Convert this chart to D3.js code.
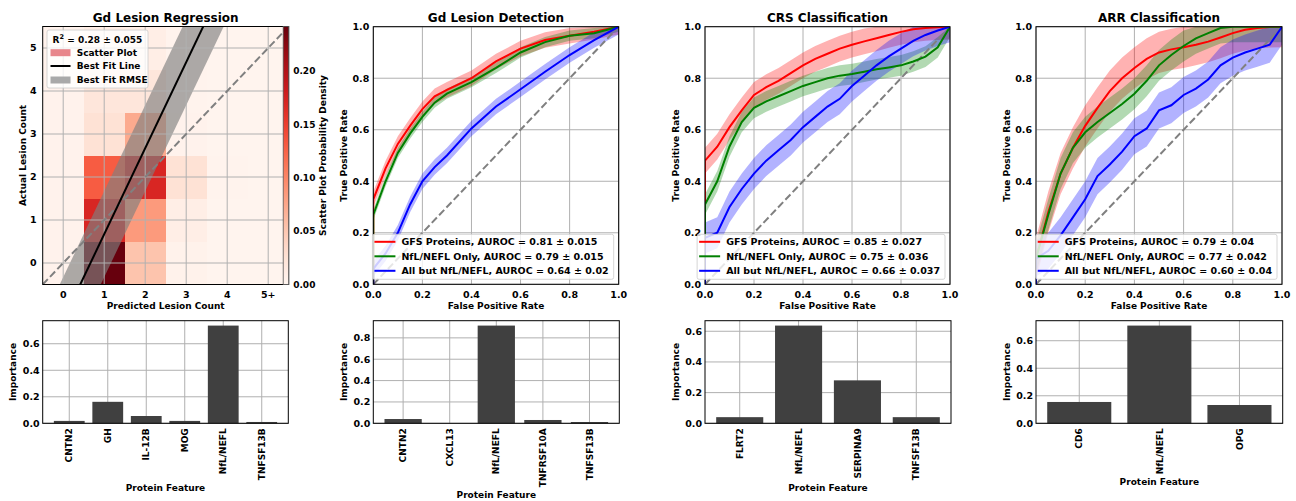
<!DOCTYPE html>
<html>
<head>
<meta charset="utf-8">
<script src="https://cdn.jsdelivr.net/npm/d3@7"></script>
<style>
body { margin: 0; background: #fff; }
svg text { font-family: 'DejaVu Sans', sans-serif; font-weight: bold; fill: #000; }
</style>
</head>
<body>
<svg id="fig" width="1296" height="501"></svg>
<script>
// ---- regression panel data ----
const countLabels = ["0", "1", "2", "3", "4", "5+"];
// rows = actual lesion count 0..5, cols = predicted lesion count 0..5
const heatDensity = [
    [0.004, 0.242, 0.053, 0.005, 0.002, 0.002],
    [0.004, 0.170, 0.085, 0.010, 0.002, 0.002],
    [0.004, 0.130, 0.170, 0.025, 0.003, 0.002],
    [0.004, 0.025, 0.073, 0.004, 0.002, 0.002],
    [0.004, 0.020, 0.020, 0.003, 0.002, 0.002],
    [0.004, 0.012, 0.010, 0.003, 0.002, 0.002]
];
const fitSlope = 2.0;
const fitIntercept = -1.33;
const fitRmse = 1.0;
const regLegend = ["Scatter Plot", "Best Fit Line", "Best Fit RMSE"];

// ---- ROC data ----
const rocNames = ["GFS Proteins", "NfL/NEFL Only", "All but NfL/NEFL"];

const gdFpr    = [0, 0, 0.05, 0.1, 0.15, 0.2, 0.25, 0.3, 0.4, 0.5, 0.6, 0.7, 0.8, 0.9, 1.0];
const gdGfsTpr = [0, 0.33, 0.45, 0.545, 0.615, 0.68, 0.73, 0.755, 0.80, 0.865, 0.915, 0.948, 0.965, 0.98, 1.0];
const gdNflTpr = [0, 0.27, 0.40, 0.51, 0.585, 0.65, 0.705, 0.74, 0.785, 0.84, 0.90, 0.94, 0.965, 0.975, 1.0];
const gdAllTpr = [0, 0.06, 0.12, 0.20, 0.31, 0.40, 0.455, 0.50, 0.605, 0.69, 0.757, 0.825, 0.89, 0.948, 1.0];
const gdStd    = [0.03, 0.02, 0.03];
const gdAuroc  = ["0.81 ± 0.015", "0.79 ± 0.015", "0.64 ± 0.02"];

const crsFpr    = [0, 0, 0.05, 0.1, 0.15, 0.2, 0.25, 0.3, 0.35, 0.4, 0.45, 0.5, 0.55, 0.6, 0.65, 0.7, 0.75, 0.8, 0.85, 0.9, 0.95, 1.0];
const crsGfsTpr = [0, 0.48, 0.534, 0.61, 0.675, 0.735, 0.765, 0.79, 0.82, 0.85, 0.875, 0.895, 0.915, 0.93, 0.943, 0.955, 0.968, 0.98, 0.99, 0.995, 0.998, 1.0];
const crsNflTpr = [0, 0.31, 0.40, 0.535, 0.63, 0.685, 0.71, 0.73, 0.75, 0.77, 0.785, 0.80, 0.81, 0.816, 0.825, 0.835, 0.842, 0.85, 0.865, 0.884, 0.92, 1.0];
const crsAllTpr = [0, 0.18, 0.20, 0.30, 0.37, 0.43, 0.48, 0.52, 0.56, 0.61, 0.65, 0.69, 0.72, 0.77, 0.81, 0.85, 0.885, 0.915, 0.945, 0.968, 0.985, 1.0];
const crsStd    = [0.05, 0.04, 0.06];
const crsAuroc  = ["0.85 ± 0.027", "0.75 ± 0.036", "0.66 ± 0.037"];

const arrFpr    = [0, 0, 0.05, 0.1, 0.15, 0.2, 0.25, 0.3, 0.35, 0.4, 0.45, 0.5, 0.55, 0.6, 0.65, 0.7, 0.75, 0.8, 0.85, 0.9, 0.95, 1.0];
const arrGfsTpr = [0, 0.10, 0.28, 0.43, 0.53, 0.615, 0.685, 0.75, 0.80, 0.84, 0.875, 0.90, 0.912, 0.92, 0.93, 0.942, 0.958, 0.975, 0.988, 0.995, 0.999, 1.0];
const arrNflTpr = [0, 0.10, 0.27, 0.43, 0.53, 0.59, 0.63, 0.665, 0.70, 0.74, 0.79, 0.85, 0.89, 0.925, 0.955, 0.975, 0.995, 1.0, 1.0, 1.0, 1.0, 1.0];
const arrAllTpr = [0, 0.10, 0.13, 0.19, 0.26, 0.33, 0.42, 0.465, 0.515, 0.575, 0.605, 0.675, 0.695, 0.735, 0.76, 0.795, 0.85, 0.88, 0.90, 0.915, 0.93, 1.0];
const arrStd    = [0.08, 0.06, 0.07];
const arrAuroc  = ["0.79 ± 0.04", "0.77 ± 0.042", "0.60 ± 0.04"];

// ---- feature importance data ----
const regFeatures = ["CNTN2", "GH", "IL-12B", "MOG", "NfL/NEFL", "TNFSF13B"];
const regImportance = [0.018, 0.162, 0.055, 0.018, 0.737, 0.01];
const gdFeatures = ["CNTN2", "CXCL13", "NfL/NEFL", "TNFRSF10A", "TNFSF13B"];
const gdImportance = [0.04, 0.0, 0.915, 0.031, 0.012];
const crsFeatures = ["FLRT2", "NfL/NEFL", "SERPINA9", "TNFSF13B"];
const crsImportance = [0.04, 0.637, 0.28, 0.04];
const arrFeatures = ["CD6", "NfL/NEFL", "OPG"];
const arrImportance = [0.155, 0.71, 0.133];

const svg = d3.select('#fig');
const gridColor = '#b0b0b0';
const rocColors = ['#ff0000', '#008000', '#0000ff'];
let clipCount = 0;

let addClip = (box) => {
    const id = 'clip' + (clipCount++);
    svg.append('clipPath').attr('id', id)
        .append('rect')
        .attr('x', box.l).attr('y', box.t)
        .attr('width', box.r - box.l).attr('height', box.b - box.t);
    return 'url(#' + id + ')';
}

let addTitle = (box, text) => {
    svg.append('text')
        .attr('x', (box.l + box.r) / 2).attr('y', 22)
        .attr('text-anchor', 'middle')
        .style('font-size', '12px')
        .text(text);
}

let addXLabel = (cx, y, text) => {
    svg.append('text')
        .attr('x', cx).attr('y', y)
        .attr('text-anchor', 'middle')
        .style('font-size', '9px')
        .text(text);
}

let addYLabel = (x, cy, text) => {
    svg.append('text')
        .attr('transform', 'translate(' + x + ',' + cy + ') rotate(-90)')
        .attr('text-anchor', 'middle')
        .attr('dy', '0.35em')
        .style('font-size', '9px')
        .text(text);
}

let addFrame = (box) => {
    svg.append('rect')
        .attr('x', box.l).attr('y', box.t)
        .attr('width', box.r - box.l).attr('height', box.b - box.t)
        .attr('fill', 'none').attr('stroke', '#000').attr('stroke-width', 1);
}

/**
 * Regression heatmap with colorbar
 */
let showRegression = () => {
    const box = {l: 42.7, r: 288.7, t: 26.5, b: 284.5};
    const x = d3.scaleLinear().domain([-0.5, 5.5]).range([box.l, box.r]);
    const y = d3.scaleLinear().domain([-0.5, 5.5]).range([box.b, box.t]);
    const maxD = d3.max(heatDensity.flat());
    const color = d3.scaleSequential(d3.interpolateReds).domain([0, maxD]);
    const clip = addClip(box);

    const g = svg.append('g').attr('clip-path', clip);
    heatDensity.forEach((row, i) => {
        row.forEach((v, j) => {
            g.append('rect')
                .attr('x', x(j - 0.5)).attr('y', y(i + 0.5))
                .attr('width', x(j + 0.5) - x(j - 0.5) + 0.5)
                .attr('height', y(i - 0.5) - y(i + 0.5) + 0.5)
                .attr('fill', color(v))
                .attr('shape-rendering', 'crispEdges');
        });
    });

    // rmse band
    const band = d3.area()
        .x(d => x(d))
        .y0(d => y(fitSlope * d + fitIntercept - fitRmse))
        .y1(d => y(fitSlope * d + fitIntercept + fitRmse));
    g.append('path').attr('d', band([-1, 6]))
        .attr('fill', '#7f7f7f').attr('fill-opacity', 0.65);

    // grid
    d3.range(6).forEach(t => {
        g.append('line').attr('x1', x(t)).attr('x2', x(t)).attr('y1', box.t).attr('y2', box.b)
            .attr('stroke', gridColor).attr('stroke-width', 1);
        g.append('line').attr('y1', y(t)).attr('y2', y(t)).attr('x1', box.l).attr('x2', box.r)
            .attr('stroke', gridColor).attr('stroke-width', 1);
    });

    // identity line
    g.append('line')
        .attr('x1', x(-0.5)).attr('y1', y(-0.5)).attr('x2', x(5.5)).attr('y2', y(5.5))
        .attr('stroke', '#808080').attr('stroke-width', 2).attr('stroke-dasharray', '7.4,3.2');

    // best fit
    const fit = d3.line().x(d => x(d)).y(d => y(fitSlope * d + fitIntercept));
    g.append('path').attr('d', fit([-1, 6]))
        .attr('stroke', '#000').attr('stroke-width', 2).attr('fill', 'none');

    addFrame(box);

    // ticks
    countLabels.forEach((lab, i) => {
        svg.append('text').attr('x', x(i)).attr('y', box.b + 13.5)
            .attr('text-anchor', 'middle').style('font-size', '9.5px').text(lab);
        svg.append('text').attr('x', box.l - 6).attr('y', y(i)).attr('dy', '0.35em')
            .attr('text-anchor', 'end').style('font-size', '9.5px').text(i);
    });

    // colorbar
    const cb = {l: 283.2, r: 288.7, t: box.t, b: box.b};
    const cy = d3.scaleLinear().domain([0, maxD]).range([cb.b, cb.t]);
    const grad = svg.append('defs').append('linearGradient').attr('id', 'cbGrad')
        .attr('x1', 0).attr('y1', 1).attr('x2', 0).attr('y2', 0);
    d3.range(0, 1.001, 0.05).forEach(t => {
        grad.append('stop').attr('offset', t).attr('stop-color', d3.interpolateReds(t));
    });
    svg.append('rect').attr('x', cb.l).attr('y', cb.t)
        .attr('width', cb.r - cb.l).attr('height', cb.b - cb.t)
        .attr('fill', 'url(#cbGrad)').attr('stroke', '#555').attr('stroke-width', 0.8);
    [0, 0.05, 0.1, 0.15, 0.2].forEach(t => {
        svg.append('text').attr('x', cb.r + 4.5).attr('y', cy(t)).attr('dy', '0.35em')
            .style('font-size', '9px').text(d3.format('.2f')(t));
    });
    addYLabel(322.7, (cb.t + cb.b) / 2, 'Scatter Plot Probability Density');

    addTitle(box, 'Gd Lesion Regression');
    addXLabel((box.l + box.r) / 2, 308.5, 'Predicted Lesion Count');
    addYLabel(22.7, (box.t + box.b) / 2, 'Actual Lesion Count');

    // legend
    const lg = svg.append('g');
    lg.append('rect').attr('x', 47).attr('y', 30).attr('width', 101).attr('height', 58)
        .attr('rx', 2).attr('fill', '#fff').attr('fill-opacity', 0.8)
        .attr('stroke', '#ccc').attr('stroke-width', 0.8);
    const ttl = lg.append('text').attr('x', 97.5).attr('y', 42.5)
        .attr('text-anchor', 'middle').style('font-size', '9px');
    ttl.append('tspan').text('R');
    ttl.append('tspan').attr('dy', -3.5).style('font-size', '6.5px').text('2');
    ttl.append('tspan').attr('dy', 3.5).text(' = 0.28 ± 0.055');
    const rowsY = [52.7, 66, 80];
    lg.append('rect').attr('x', 50.5).attr('y', rowsY[0] - 3.5).attr('width', 20).attr('height', 7)
        .attr('fill', '#e8868b');
    lg.append('line').attr('x1', 50.5).attr('x2', 70.5).attr('y1', rowsY[1]).attr('y2', rowsY[1])
        .attr('stroke', '#000').attr('stroke-width', 2);
    lg.append('rect').attr('x', 50.5).attr('y', rowsY[2] - 3.5).attr('width', 20).attr('height', 7)
        .attr('fill', '#a9a9a9');
    regLegend.forEach((t, i) => {
        lg.append('text').attr('x', 76.7).attr('y', rowsY[i]).attr('dy', '0.35em')
            .style('font-size', '9px').text(t);
    });
}

/**
 * ROC panel with std bands
 */
let showRoc = (box, title, fpr, tprs, stds, aurocs) => {
    const x = d3.scaleLinear().domain([0, 1]).range([box.l, box.r]);
    const y = d3.scaleLinear().domain([0, 1]).range([box.b, box.t]);
    const clip = addClip(box);
    const ticks = [0, 0.2, 0.4, 0.6, 0.8, 1.0];

    const grid = svg.append('g');
    ticks.forEach(t => {
        grid.append('line').attr('x1', x(t)).attr('x2', x(t)).attr('y1', box.t).attr('y2', box.b)
            .attr('stroke', gridColor).attr('stroke-width', 1);
        grid.append('line').attr('y1', y(t)).attr('y2', y(t)).attr('x1', box.l).attr('x2', box.r)
            .attr('stroke', gridColor).attr('stroke-width', 1);
    });

    const g = svg.append('g').attr('clip-path', clip);
    tprs.forEach((tpr, k) => {
        const pts = fpr.map((f, i) => [f, tpr[i]]);
        const area = d3.area()
            .x(d => x(d[0]))
            .y0(d => y(Math.max(0, d[1] - stds[k])))
            .y1(d => y(Math.min(1, d[1] + stds[k])));
        g.append('path').attr('d', area(pts))
            .attr('fill', rocColors[k]).attr('fill-opacity', 0.3);
    });
    g.append('line')
        .attr('x1', x(0)).attr('y1', y(0)).attr('x2', x(1)).attr('y2', y(1))
        .attr('stroke', '#808080').attr('stroke-width', 2).attr('stroke-dasharray', '7.4,3.2');
    tprs.forEach((tpr, k) => {
        const pts = fpr.map((f, i) => [f, tpr[i]]);
        const line = d3.line().x(d => x(d[0])).y(d => y(d[1]));
        g.append('path').attr('d', line(pts))
            .attr('fill', 'none').attr('stroke', rocColors[k]).attr('stroke-width', 2);
    });

    addFrame(box);

    ticks.forEach(t => {
        svg.append('text').attr('x', x(t)).attr('y', box.b + 13.5)
            .attr('text-anchor', 'middle').style('font-size', '9.5px').text(d3.format('.1f')(t));
        svg.append('text').attr('x', box.l - 4).attr('y', y(t)).attr('dy', '0.35em')
            .attr('text-anchor', 'end').style('font-size', '9.5px').text(d3.format('.1f')(t));
    });

    addTitle(box, title);
    addXLabel((box.l + box.r) / 2, 308.5, 'False Positive Rate');
    addYLabel(box.l - 29.5, (box.t + box.b) / 2, 'True Positive Rate');

    // legend
    const lg = svg.append('g');
    const labels = rocNames.map((n, i) => n + ', AUROC = ' + aurocs[i]);
    const rowsY = [box.b - 42.5, box.b - 28, box.b - 13.5];
    const texts = labels.map((t, i) => lg.append('text')
        .attr('y', rowsY[i]).attr('dy', '0.35em')
        .style('font-size', '9.5px').text(t));
    const maxW = d3.max(texts, t => t.node().getComputedTextLength());
    const bw = 2 + 21 + 6 + maxW + 5;
    const bx = box.r - 5 - bw;
    lg.insert('rect', ':first-child')
        .attr('x', bx).attr('y', box.b - 50).attr('width', bw).attr('height', 45)
        .attr('rx', 2).attr('fill', '#fff').attr('fill-opacity', 0.8)
        .attr('stroke', '#ccc').attr('stroke-width', 0.8);
    texts.forEach(t => t.attr('x', bx + 29));
    rowsY.forEach((ry, i) => {
        lg.append('line').attr('x1', bx + 2).attr('x2', bx + 23).attr('y1', ry).attr('y2', ry)
            .attr('stroke', rocColors[i]).attr('stroke-width', 2);
    });
}

/**
 * Feature importance bars
 */
let showBars = (box, names, values) => {
    const n = names.length;
    const pad = (n - 0.2) * 0.05;
    const x = d3.scaleLinear().domain([-0.4 - pad, n - 0.6 + pad]).range([box.l, box.r]);
    const y = d3.scaleLinear().domain([0, d3.max(values) * 1.05]).range([box.b, box.t]);
    const yTicks = y.ticks(4);

    const grid = svg.append('g');
    names.forEach((nm, i) => {
        grid.append('line').attr('x1', x(i)).attr('x2', x(i)).attr('y1', box.t).attr('y2', box.b)
            .attr('stroke', gridColor).attr('stroke-width', 1);
    });
    yTicks.forEach(t => {
        grid.append('line').attr('y1', y(t)).attr('y2', y(t)).attr('x1', box.l).attr('x2', box.r)
            .attr('stroke', gridColor).attr('stroke-width', 1);
    });

    svg.append('g').selectAll('rect')
        .data(values)
        .enter()
        .append('rect')
        .attr('x', (d, i) => x(i - 0.4))
        .attr('width', (d, i) => x(i + 0.4) - x(i - 0.4))
        .attr('y', d => y(d))
        .attr('height', d => y(0) - y(d))
        .attr('fill', '#404040');

    addFrame(box);

    yTicks.forEach(t => {
        svg.append('text').attr('x', box.l - 3).attr('y', y(t)).attr('dy', '0.35em')
            .attr('text-anchor', 'end').style('font-size', '9.5px').text(d3.format('.1f')(t));
    });
    let maxLen = 0;
    names.forEach((nm, i) => {
        const t = svg.append('text')
            .attr('transform', 'translate(' + x(i) + ',' + (box.b + 5) + ') rotate(-90)')
            .attr('text-anchor', 'end').attr('dy', '0.35em')
            .style('font-size', '9px').text(nm);
        maxLen = Math.max(maxLen, t.node().getComputedTextLength());
    });
    addXLabel((box.l + box.r) / 2, box.b + 5 + maxLen + 11, 'Protein Feature');
    addYLabel(box.l - 29.5, (box.t + box.b) / 2, 'Importance');
}

// init all panels
showRegression();
showRoc({l: 373.3, r: 618.7, t: 26.7, b: 284.3}, 'Gd Lesion Detection', gdFpr, [gdGfsTpr, gdNflTpr, gdAllTpr], gdStd, gdAuroc);
showRoc({l: 705, r: 950, t: 26.7, b: 284.3}, 'CRS Classification', crsFpr, [crsGfsTpr, crsNflTpr, crsAllTpr], crsStd, crsAuroc);
showRoc({l: 1036, r: 1282, t: 26.7, b: 284.3}, 'ARR Classification', arrFpr, [arrGfsTpr, arrNflTpr, arrAllTpr], arrStd, arrAuroc);

showBars({l: 42.7, r: 288.3, t: 320.7, b: 423.3}, regFeatures, regImportance);
showBars({l: 373.3, r: 619.3, t: 320.7, b: 423.3}, gdFeatures, gdImportance);
showBars({l: 705, r: 951, t: 320.7, b: 423.3}, crsFeatures, crsImportance);
showBars({l: 1036, r: 1282.7, t: 320.7, b: 423.3}, arrFeatures, arrImportance);
</script>
</body>
</html>
